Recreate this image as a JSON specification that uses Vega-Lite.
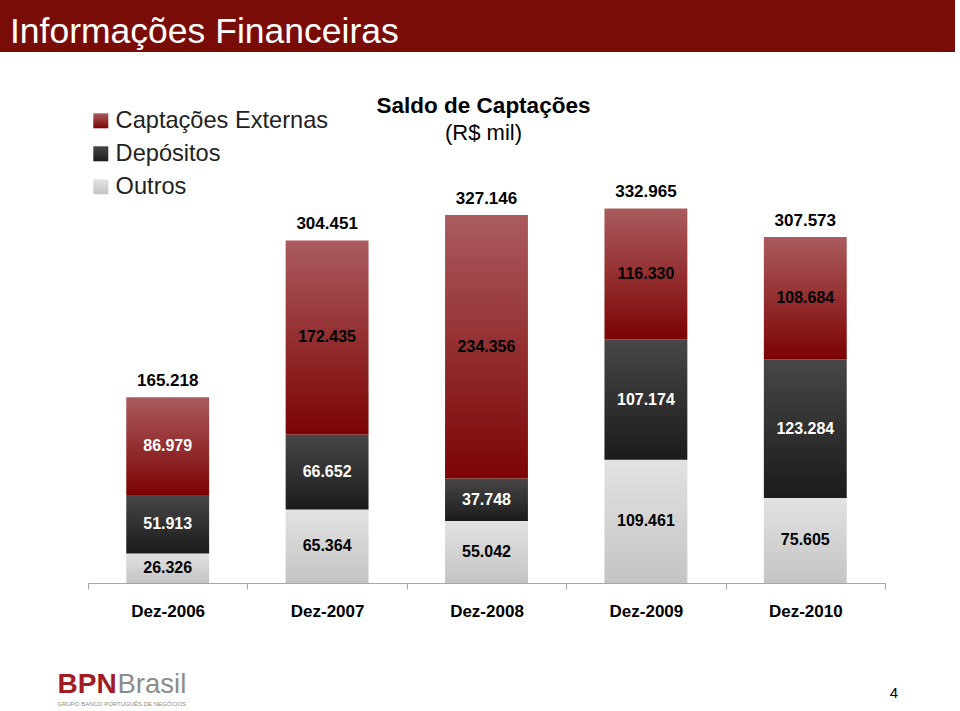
{
  "$schema": "https://vega.github.io/schema/vega-lite/v6.json",
  "padding": 0,
  "background": "white",
  "bounds": "flush",
  "spacing": 81,
  "datasets": {
    "captacoes": [
      {"ano": "Dez-2006", "serie": "Outros", "valor": 26326},
      {"ano": "Dez-2006", "serie": "Depósitos", "valor": 51913},
      {"ano": "Dez-2006", "serie": "Captações Externas", "valor": 86979},
      {"ano": "Dez-2007", "serie": "Outros", "valor": 65364},
      {"ano": "Dez-2007", "serie": "Depósitos", "valor": 66652},
      {"ano": "Dez-2007", "serie": "Captações Externas", "valor": 172435},
      {"ano": "Dez-2008", "serie": "Outros", "valor": 55042},
      {"ano": "Dez-2008", "serie": "Depósitos", "valor": 37748},
      {"ano": "Dez-2008", "serie": "Captações Externas", "valor": 234356},
      {"ano": "Dez-2009", "serie": "Outros", "valor": 109461},
      {"ano": "Dez-2009", "serie": "Depósitos", "valor": 107174},
      {"ano": "Dez-2009", "serie": "Captações Externas", "valor": 116330},
      {"ano": "Dez-2010", "serie": "Outros", "valor": 75605},
      {"ano": "Dez-2010", "serie": "Depósitos", "valor": 123284},
      {"ano": "Dez-2010", "serie": "Captações Externas", "valor": 108684}
    ]
  },
  "vconcat": [
    {
      "width": 955,
      "height": 52,
      "data": {"values": [{}]},
      "mark": {"type": "rect", "color": "#7a0c07"},
      "encoding": {},
      "title": {
        "text": "Informações Financeiras",
        "anchor": "start",
        "frame": "group",
        "dx": 10,
        "offset": -50,
        "fontSize": 35.5,
        "fontWeight": "normal",
        "font": "Liberation Sans",
        "color": "white"
      }
    },
    {
      "width": 955,
      "height": 450,
      "data": {"name": "captacoes"},
      "title": {
        "text": "Saldo de Captações",
        "subtitle": "(R$ mil)",
        "anchor": "middle",
        "frame": "group",
        "dx": 6,
        "offset": -11,
        "font": "Liberation Sans",
        "fontSize": 22.5,
        "fontWeight": "bold",
        "color": "black",
        "subtitleFont": "Liberation Sans",
        "subtitleFontSize": 22,
        "subtitleColor": "black",
        "subtitlePadding": 6
      },
      "resolve": {"axis": {"x": "independent", "y": "independent"}},
      "layer": [
        {
          "mark": {"type": "bar", "width": {"band": 0.52}},
          "encoding": {
            "x": {
              "field": "ano", "type": "nominal", "sort": null,
              "scale": {"range": [88, 885], "paddingInner": 0, "paddingOuter": 0},
              "axis": {
                "orient": "bottom",
                "title": "4",
                "titleX": 893.5, "titleY": 114,
                "titleAlign": "center", "titleBaseline": "alphabetic",
                "titleFont": "Liberation Sans", "titleFontSize": 15, "titleFontWeight": "normal", "titleColor": "black",
                "labelAngle": 0,
                "labelFont": "Liberation Sans", "labelFontSize": 17, "labelFontWeight": "bold", "labelColor": "black",
                "labelPadding": 14,
                "tickBand": "extent", "tickSize": 6, "tickColor": "#a6a6a6", "domainColor": "#a6a6a6",
                "grid": false
              }
            },
            "y": {
              "field": "valor", "type": "quantitative", "stack": "zero",
              "scale": {"domain": [0, 400000], "nice": false},
              "axis": {
                "orient": "left",
                "domain": false, "ticks": false, "labels": false, "grid": false,
                "title": "BPN",
                "titleAngle": 0, "titleX": 57, "titleY": 559,
                "titleAlign": "left", "titleBaseline": "alphabetic",
                "titleFont": "Liberation Sans", "titleFontSize": 28, "titleFontWeight": "bold", "titleColor": "#a01c22"
              }
            },
            "color": {
              "field": "serie", "type": "nominal",
              "scale": {
                "domain": ["Captações Externas", "Depósitos", "Outros"],
                "range": [
                  {"expr": "{gradient: 'linear', x1: 0, y1: 0, x2: 0, y2: 1, stops: [{offset: 0, color: '#ab5b5e'}, {offset: 1, color: '#7c0304'}]}"},
                  {"expr": "{gradient: 'linear', x1: 0, y1: 0, x2: 0, y2: 1, stops: [{offset: 0, color: '#474747'}, {offset: 1, color: '#1b1b1b'}]}"},
                  {"expr": "{gradient: 'linear', x1: 0, y1: 0, x2: 0, y2: 1, stops: [{offset: 0, color: '#e2e2e2'}, {offset: 1, color: '#c4c4c4'}]}"}
                ]
              },
              "legend": {
                "orient": "none", "legendX": 89, "legendY": 109,
                "title": null,
                "symbolType": "square", "symbolSize": 225, "symbolStrokeWidth": 0,
                "labelFont": "Liberation Sans", "labelFontSize": 23.6, "labelColor": "#222222",
                "labelOffset": 3, "labelLimit": 400,
                "rowPadding": 8, "padding": 0
              }
            },
            "order": {"field": "serie", "type": "nominal", "sort": "descending"}
          }
        },
        {
          "transform": [
            {"stack": "valor", "groupby": ["ano"], "sort": [{"field": "serie", "order": "descending"}], "as": ["v0", "v1"]}
          ],
          "mark": {
            "type": "text", "baseline": "middle", "align": "center",
            "font": "Liberation Sans", "fontSize": 16, "fontWeight": "bold",
            "dy": {"expr": "(scale('concat_1_y', 0) - scale('concat_1_y', datum.valor)) / 2"}
          },
          "encoding": {
            "x": {
              "field": "ano", "type": "nominal", "sort": null,
              "axis": {
                "orient": "top",
                "domain": false, "ticks": false, "labels": false, "grid": false,
                "title": "GRUPO BANCO PORTUGUÊS DE NEGÓCIOS",
                "titleX": 57, "titleY": 572,
                "titleAlign": "left", "titleBaseline": "alphabetic",
                "titleFont": "Liberation Sans", "titleFontSize": 6, "titleFontWeight": "normal", "titleColor": "#8a8a8a"
              }
            },
            "y": {
              "field": "v1", "type": "quantitative",
              "axis": {
                "orient": "right",
                "domain": false, "ticks": false, "labels": false, "grid": false,
                "title": "Brasil",
                "titleAngle": 0, "titleX": -838, "titleY": 559,
                "titleAlign": "left", "titleBaseline": "alphabetic",
                "titleFont": "Liberation Sans", "titleFontSize": 27.5, "titleFontWeight": "normal", "titleColor": "#8c8c8c"
              }
            },
            "text": {"field": "valor", "type": "quantitative", "format": ",.0f"},
            "color": {
              "condition": {"test": "datum.serie === 'Depósitos' || (datum.serie === 'Captações Externas' && datum.ano === 'Dez-2006')", "value": "white"},
              "value": "black"
            }
          }
        },
        {
          "mark": {
            "type": "text", "baseline": "alphabetic", "align": "center", "dy": -11,
            "font": "Liberation Sans", "fontSize": 17, "fontWeight": "bold", "color": "black"
          },
          "encoding": {
            "x": {"field": "ano", "type": "nominal", "sort": null, "axis": null},
            "y": {"aggregate": "sum", "field": "valor", "type": "quantitative", "axis": null},
            "text": {"aggregate": "sum", "field": "valor", "type": "quantitative", "format": ",.0f"}
          }
        }
      ]
    }
  ],
  "config": {
    "view": {"stroke": null},
    "locale": {
      "number": {"decimal": ",", "thousands": ".", "grouping": [3], "currency": ["R$", ""]}
    }
  }
}
